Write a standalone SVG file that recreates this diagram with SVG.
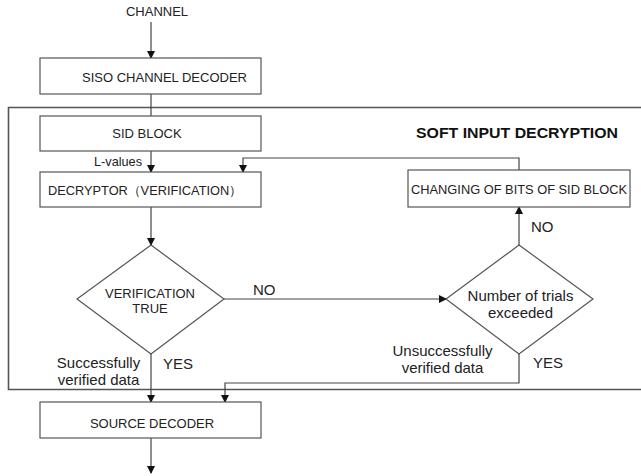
<svg xmlns="http://www.w3.org/2000/svg" width="641" height="476" viewBox="0 0 641 476">
<style>
.box{fill:#fff;stroke:#555;stroke-width:1.2}
.ln{fill:none;stroke:#444;stroke-width:1.2}
.t{font-family:"Liberation Sans",Arial,sans-serif;font-size:13px;fill:#222}
.l{font-family:"Liberation Sans",Arial,sans-serif;font-size:15px;fill:#222}
.c{text-anchor:middle}
</style>
<defs>
<marker id="ah" markerWidth="8" markerHeight="8" refX="7" refY="4" orient="auto" markerUnits="userSpaceOnUse">
<path d="M0,0 L8,4 L0,8 z" fill="#111"/>
</marker>
</defs>
<rect width="641" height="476" fill="#fff"/>
<g id="frame">
<path d="M641,107.5 H8.5 V389.5 H641" fill="none" stroke="#555" stroke-width="1.6"/>
<text x="416" y="138" font-family="Liberation Sans,Arial,sans-serif" font-size="14.5" font-weight="bold" fill="#111" textLength="202" lengthAdjust="spacingAndGlyphs">SOFT INPUT DECRYPTION</text>
</g>
<g id="connectors">
<line class="ln" x1="151" y1="22" x2="151" y2="58" marker-end="url(#ah)"/>
<line class="ln" x1="151" y1="94" x2="151" y2="116"/>
<line class="ln" x1="151" y1="151" x2="151" y2="172" marker-end="url(#ah)"/>
<polyline class="ln" points="519,170 519,158 243,158 243,172" marker-end="url(#ah)"/>
<line class="ln" x1="151" y1="207" x2="151" y2="245" marker-end="url(#ah)"/>
<line class="ln" x1="224" y1="299" x2="446" y2="299" marker-end="url(#ah)"/>
<line class="ln" x1="519" y1="245" x2="519" y2="207" marker-end="url(#ah)"/>
<line class="ln" x1="151" y1="354" x2="151" y2="402" marker-end="url(#ah)"/>
<polyline class="ln" points="519,354 519,383 225,383 225,402" marker-end="url(#ah)"/>
<line class="ln" x1="151" y1="438" x2="151" y2="473" marker-end="url(#ah)"/>
<text class="t" x="94" y="166" textLength="48" lengthAdjust="spacingAndGlyphs">L-values</text>
<text class="l" x="253" y="295">NO</text>
<text class="l" x="531" y="232">NO</text>
<text class="l" x="163" y="369">YES</text>
<text class="l" x="533" y="368">YES</text>
<text class="l c" x="98.5" y="368">Successfully</text>
<text class="l c" x="98.5" y="385">verified data</text>
<text class="l c" x="442.5" y="356">Unsuccessfully</text>
<text class="l c" x="442.5" y="373">verified data</text>
</g>
<text class="t c" x="157" y="16">CHANNEL</text>
<g id="siso">
<rect class="box" x="40" y="58" width="221" height="36"/>
<text class="t c" x="164.5" y="82">SISO CHANNEL DECODER</text>
</g>
<g id="sid">
<rect class="box" x="40" y="116" width="221" height="35"/>
<text class="t c" x="147" y="138">SID BLOCK</text>
</g>
<g id="decryptor">
<rect class="box" x="40" y="172" width="221" height="35"/>
<text class="t" x="48" y="195" textLength="194" lengthAdjust="spacingAndGlyphs">DECRYPTOR（VERIFICATION）</text>
</g>
<g id="changing">
<rect class="box" x="408" y="170" width="222" height="37"/>
<text class="t c" x="519" y="194" textLength="216" lengthAdjust="spacingAndGlyphs">CHANGING OF BITS OF SID BLOCK</text>
</g>
<g id="verif">
<polygon class="box" points="151,245 224,299 151,354 77,299"/>
<text class="t c" x="150" y="298">VERIFICATION</text>
<text class="t c" x="150" y="313">TRUE</text>
</g>
<g id="trials">
<polygon class="box" points="519,245 593,299 519,354 446,299"/>
<text class="l c" x="520.5" y="301">Number of trials</text>
<text class="l c" x="520.5" y="318">exceeded</text>
</g>
<g id="source">
<rect class="box" x="40" y="402" width="221" height="36"/>
<text class="t c" x="152" y="428">SOURCE DECODER</text>
</g>
</svg>
